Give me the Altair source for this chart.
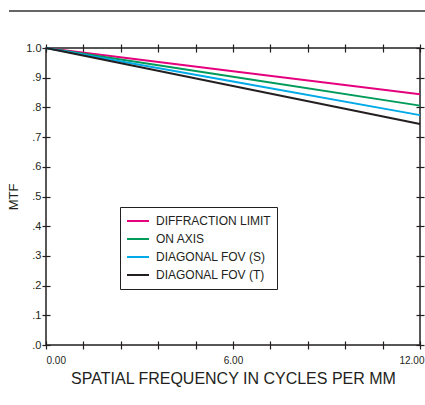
import altair as alt
import pandas as pd

freq = [0.0, 6.0, 12.0]
diffraction = [1.0, 0.922, 0.844]
on_axis = [1.0, 0.903, 0.806]
diag_s = [1.0, 0.887, 0.774]
diag_t = [1.0, 0.872, 0.744]

series_names = ["DIFFRACTION LIMIT", "ON AXIS", "DIAGONAL FOV (S)", "DIAGONAL FOV (T)"]
series_colors = ["#e5007d", "#009b5a", "#00a9e8", "#231f20"]
x_ticks = [0, 1.2, 2.4, 3.6, 4.8, 6, 7.2, 8.4, 9.6, 10.8, 12]
y_ticks = [0, 0.1, 0.2, 0.3, 0.4, 0.5, 0.6, 0.7, 0.8, 0.9, 1.0]

rows = []
for name, vals in zip(series_names, [diffraction, on_axis, diag_s, diag_t]):
    for f, v in zip(freq, vals):
        rows.append({"freq": f, "mtf": v, "series": name})
df = pd.DataFrame(rows)

font = "Liberation Sans"
ink = "#231f20"
xscale = alt.Scale(domain=[0, 12], nice=False, zero=False)
yscale = alt.Scale(domain=[0, 1], nice=False)

lines = alt.Chart(df).mark_line(strokeWidth=2).encode(
    x=alt.X("freq:Q", scale=xscale,
            axis=alt.Axis(orient="bottom", values=x_ticks, domain=False, grid=False,
                          tickSize=8, offset=-4, tickColor=ink, tickWidth=1.2,
                          labelExpr="datum.value == 0 || datum.value == 6 || datum.value == 12 ? format(datum.value, '.2f') : ''",
                          labelFontSize=10, labelFont=font, labelColor=ink, labelPadding=6,
                          labelOffset={"condition": {"test": "datum.value == 12", "value": 4}, "value": 0},
                          title="SPATIAL FREQUENCY IN CYCLES PER MM", titleFont=font,
                          titleFontSize=16, titleFontWeight="normal", titleColor=ink,
                          titlePadding=5)),
    y=alt.Y("mtf:Q", scale=yscale,
            axis=alt.Axis(orient="left", values=y_ticks, domain=False, grid=False,
                          tickSize=8, offset=-4, tickColor=ink, tickWidth=1.2,
                          labelExpr="datum.value == 1 ? '1.0' : '.' + format(datum.value * 10, '.0f')",
                          labelFontSize=11, labelFont=font, labelColor=ink, labelPadding=1,
                          title="MTF", titleFont=font, titleFontSize=13,
                          titleFontWeight="normal", titleColor=ink, titlePadding=5)),
    color=alt.Color("series:N", sort=series_names,
                    scale=alt.Scale(domain=series_names, range=series_colors),
                    legend=alt.Legend(orient="none", legendX=74, legendY=159, title=None,
                                      symbolType="stroke", symbolSize=484, symbolStrokeWidth=2,
                                      labelFont=font, labelFontSize=12, labelColor=ink,
                                      strokeColor=ink, fillColor="white", padding=6,
                                      rowPadding=2, clipHeight=16, labelOffset=6)),
    order=alt.Order("order:Q"),
).transform_calculate(order="indexof(['DIAGONAL FOV (T)','DIAGONAL FOV (S)','ON AXIS','DIFFRACTION LIMIT'], datum.series)")

frame_axes = alt.Chart(df).mark_point(opacity=0).encode(
    x=alt.X("freq:Q", scale=xscale,
            axis=alt.Axis(orient="top", values=x_ticks, domain=False, grid=False, labels=False,
                          tickSize=8, offset=-4, tickColor=ink, tickWidth=1.2, title=None)),
    y=alt.Y("mtf:Q", scale=yscale,
            axis=alt.Axis(orient="right", values=y_ticks, domain=False, grid=False, labels=False,
                          tickSize=8, offset=-4, tickColor=ink, tickWidth=1.2, title=None)),
)

top_rule = alt.Chart(pd.DataFrame({"a": [0]})).mark_rule(color="#333333", strokeWidth=1.5).encode(
    x=alt.value(-37), x2=alt.value(385), y=alt.value(-37)
)

chart = alt.layer(lines, frame_axes, top_rule).resolve_axis(
    x="independent", y="independent"
).properties(
    width=374, height=297,
    autosize=alt.AutoSizeParams(type="none"),
    padding={"left": 46, "top": 48, "right": 5, "bottom": 60},
    background="white",
).configure_view(
    stroke=ink, strokeWidth=1.5
)

chart.save("out.html", embed_options={"renderer": "svg", "actions": False})
